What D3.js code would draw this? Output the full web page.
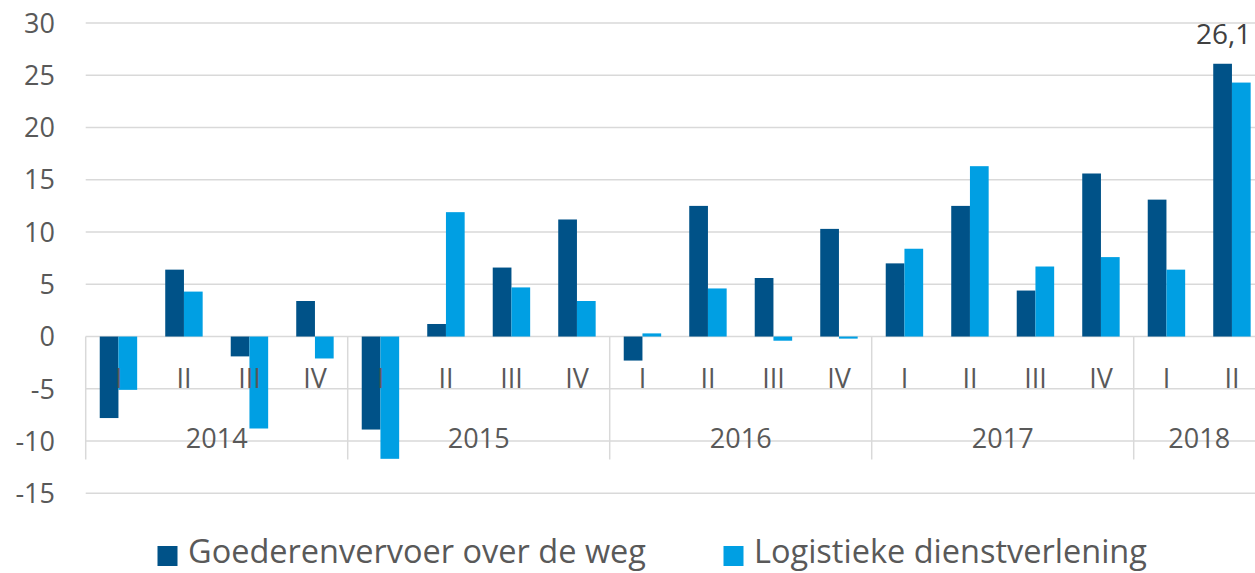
<!DOCTYPE html>
<html>
<head>
<meta charset="utf-8">
<script src="https://cdn.jsdelivr.net/npm/d3@7"></script>
<style>
  html, body { margin: 0; padding: 0; background: #fff; }
  svg { display: block; }
  text { font-family: "Open Sans", "Noto Sans", sans-serif; }
</style>
</head>
<body>
<div id="chart"></div>
<script>
const years = ["2014", "2015", "2016", "2017", "2018"];
const quarters = ["I", "II", "III", "IV", "I", "II", "III", "IV", "I", "II", "III", "IV", "I", "II", "III", "IV", "I", "II"];
const quarterYear = ["2014","2014","2014","2014","2015","2015","2015","2015","2016","2016","2016","2016","2017","2017","2017","2017","2018","2018"];
const seriesNames = ["Goederenvervoer over de weg", "Logistieke dienstverlening"];
const goederen = [-7.8, 6.4, -1.9, 3.4, -8.9, 1.2, 6.6, 11.2, -2.3, 12.5, 5.6, 10.3, 7.0, 12.5, 4.4, 15.6, 13.1, 26.1];
const logistiek = [-5.1, 4.3, -8.8, -2.1, -11.7, 11.9, 4.7, 3.4, 0.3, 4.6, -0.4, -0.2, 8.4, 16.3, 6.7, 7.6, 6.4, 24.3];
const yTicks = [-15, -10, -5, 0, 5, 10, 15, 20, 25, 30];
const annotation = { index: 17, series: 0, text: "26,1" };

const W = 1255, H = 573;
const colors = ["#005288", "#009FE3"];
const grid = "#D9D9D9";
const labelColor = "#595959";

const svg = d3.select("#chart").append("svg").attr("width", W).attr("height", H);

const left = 85.7, step = 65.5;
const idx = d3.range(quarters.length);
const x = d3.scaleBand().domain(idx).range([left, left + step * quarters.length]).padding(0);
const x1 = d3.scaleBand().domain([0, 1]).range([0, x.bandwidth()]).paddingInner(0).paddingOuter(0.75);
const y = d3.scaleLinear().domain([-15, 30]).range([493.3, 23]);

// gridlines
svg.append("g").selectAll("line").data(yTicks).join("line")
  .attr("x1", left).attr("x2", W)
  .attr("y1", d => y(d)).attr("y2", d => y(d))
  .attr("stroke", grid).attr("stroke-width", 1.5);

// y tick labels
svg.append("g").selectAll("text").data(yTicks).join("text")
  .attr("x", 55).attr("y", d => y(d)).attr("dy", "0.36em")
  .attr("text-anchor", "end")
  .attr("font-size", 27).attr("fill", labelColor)
  .text(d => d);

// year separators
const yearStarts = years.map(yr => quarterYear.indexOf(yr));
const sepIdx = yearStarts.concat([quarters.length]);
svg.append("g").selectAll("line").data(sepIdx).join("line")
  .attr("x1", d => left + d * step).attr("x2", d => left + d * step)
  .attr("y1", y(0)).attr("y2", 459.5)
  .attr("stroke", grid).attr("stroke-width", 1.5);

// bars
const seriesData = [goederen, logistiek];
seriesData.forEach((vals, s) => {
  svg.append("g").selectAll("rect").data(vals).join("rect")
    .attr("x", (d, i) => x(i) + x1(s))
    .attr("width", x1.bandwidth())
    .attr("y", d => y(Math.max(0, d)))
    .attr("height", d => Math.abs(y(d) - y(0)))
    .attr("fill", colors[s]);
});

// quarter labels
svg.append("g").selectAll("text").data(quarters).join("text")
  .attr("x", (d, i) => x(i) + x.bandwidth() / 2)
  .attr("y", 388)
  .attr("text-anchor", "middle")
  .attr("font-size", 27).attr("fill", labelColor)
  .text(d => d);

// year labels
svg.append("g").selectAll("text").data(years).join("text")
  .attr("x", (d, k) => {
    const a = yearStarts[k], b = (k + 1 < years.length ? yearStarts[k + 1] : quarters.length);
    return left + (a + b) / 2 * step;
  })
  .attr("y", 448)
  .attr("text-anchor", "middle")
  .attr("font-size", 27).attr("fill", labelColor)
  .text(d => d);

// annotation
const annVal = seriesData[annotation.series][annotation.index];
svg.append("text")
  .attr("x", x(annotation.index) + x1(annotation.series) + x1.bandwidth() / 2 + 1)
  .attr("y", y(annVal) - 20)
  .attr("text-anchor", "middle")
  .attr("font-size", 28).attr("fill", "#404040")
  .text(annotation.text);

// legend
const legendX = [157.5, 723.5];
seriesNames.forEach((name, s) => {
  svg.append("rect").attr("x", legendX[s]).attr("y", 546).attr("width", 20).attr("height", 20).attr("fill", colors[s]);
  svg.append("text").attr("x", legendX[s] + 30.5).attr("y", 563)
    .attr("font-size", 32.5).attr("fill", labelColor).text(name);
});
</script>
</body>
</html>
